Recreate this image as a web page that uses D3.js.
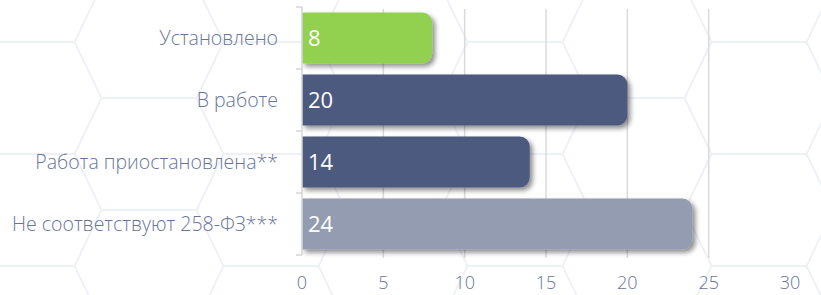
<!DOCTYPE html>
<html>
<head>
<meta charset="utf-8">
<script src="https://cdn.jsdelivr.net/npm/d3@7"></script>
<style>
	html, body { margin: 0; padding: 0; background: #fff; }
	svg { display: block; font-family: 'Open Sans', 'DejaVu Sans', sans-serif; }
	.cat_label { fill: #67759a; font-size: 19.5px; font-weight: 300; }
	.val_label { fill: #fff; font-size: 22px; font-weight: 400; }
	.tick_label { fill: #67759a; font-size: 18px; font-weight: 300; }
</style>
</head>
<body>
<div id="chart"></div>
<script>
const categories = ['Установлено', 'В работе', 'Работа приостановлена**', 'Не соответствуют 258-ФЗ***'];
const values = [8, 20, 14, 24];
const barColors = ['#92d050', '#4c5a7e', '#4c5a7e', '#939cb0'];
const xTicks = [0, 5, 10, 15, 20, 25, 30];

const options = {
	w: 821,
	h: 295,
	left: 302,
	right: 790,
	top: 7,
	bottom: 255,
	radius: 10
};

const svg = d3.select('#chart').append('svg')
	.attr('width', options.w)
	.attr('height', options.h);

// shadow
const defs = svg.append('defs');
defs.append('filter')
	.attr('id', 'shadow')
	.attr('x', '-10%').attr('y', '-20%')
	.attr('width', '130%').attr('height', '160%')
	.append('feDropShadow')
	.attr('dx', 3).attr('dy', 3)
	.attr('stdDeviation', 2.5)
	.attr('flood-color', '#000')
	.attr('flood-opacity', 0.45);

// hex background (decoration)
const hexL = 95, hexS = 27, hexH = 56, hexP = 2 * (hexL + hexS);
const hexG = svg.append('g').attr('class', 'hex_bg');
for (let k = -1; k < 7; k++) {
	const y = -14 + k * hexH;
	const c0 = (k % 2 === 0) ? 637 : 515;
	for (let c = c0 - hexP * 4; c < options.w + hexP; c += hexP) {
		const a = c - hexL / 2, b = c + hexL / 2;
		const p = d3.path();
		p.moveTo(a - hexS, y + hexH); p.lineTo(a, y); p.lineTo(b, y); p.lineTo(b + hexS, y + hexH);
		hexG.append('path').attr('d', p.toString())
			.attr('fill', 'none')
			.attr('stroke', '#edf1f6')
			.attr('stroke-width', 1.8);
	}
}

// scales
const x = d3.scaleLinear().domain([0, 30]).range([options.left, options.right]);
const y = d3.scaleBand().domain(categories)
	.range([options.top, options.bottom])
	.paddingInner(0.18)
	.paddingOuter(0.09);

// grid lines
svg.append('g').selectAll('line')
	.data(xTicks.filter(d => d > 0 && d < 30))
	.enter().append('line')
	.attr('x1', d => x(d)).attr('x2', d => x(d))
	.attr('y1', options.top + 2).attr('y2', options.bottom + 3)
	.attr('stroke', '#dadada')
	.attr('stroke-width', 1.5);

// bars
const barPath = (d, i) => {
	const x0 = x(0), x1 = x(d), y0 = y(categories[i]), hh = y.bandwidth(), r = options.radius;
	const p = d3.path();
	p.moveTo(x0, y0);
	p.lineTo(x1 - r, y0);
	p.arcTo(x1, y0, x1, y0 + r, r);
	p.lineTo(x1, y0 + hh - r);
	p.arcTo(x1, y0 + hh, x1 - r, y0 + hh, r);
	p.lineTo(x0, y0 + hh);
	p.closePath();
	return p.toString();
};

svg.append('g').selectAll('path')
	.data(values)
	.enter().append('path')
	.attr('d', barPath)
	.attr('fill', (d, i) => barColors[i])
	.attr('filter', 'url(#shadow)');

// category axis
const yAxisG = svg.append('g');
yAxisG.append('line')
	.attr('x1', x(0)).attr('x2', x(0))
	.attr('y1', options.top).attr('y2', options.bottom)
	.attr('stroke', '#d4d4d4').attr('stroke-width', 1.5);
const bounds = categories.map(c => y(c) - y.step() * y.paddingInner() / 2).concat([options.bottom]);
bounds[0] = options.top;
yAxisG.selectAll('.tick_y')
	.data(bounds)
	.enter().append('line')
	.attr('x1', x(0) - 6).attr('x2', x(0))
	.attr('y1', d => d).attr('y2', d => d)
	.attr('stroke', '#d4d4d4').attr('stroke-width', 1.5);

yAxisG.selectAll('text')
	.data(categories)
	.enter().append('text')
	.classed('cat_label', true)
	.attr('x', x(0) - 24)
	.attr('y', d => y(d) + y.bandwidth() / 2)
	.attr('dy', '0.35em')
	.attr('text-anchor', 'end')
	.text(d => d);

// value labels
svg.append('g').selectAll('text')
	.data(values)
	.enter().append('text')
	.classed('val_label', true)
	.attr('x', x(0) + 6)
	.attr('y', (d, i) => y(categories[i]) + y.bandwidth() / 2)
	.attr('dy', '0.36em')
	.text(d => d);

// x axis labels
svg.append('g').selectAll('text')
	.data(xTicks)
	.enter().append('text')
	.classed('tick_label', true)
	.attr('x', d => x(d))
	.attr('y', 289)
	.attr('text-anchor', 'middle')
	.text(d => d);
</script>
</body>
</html>
